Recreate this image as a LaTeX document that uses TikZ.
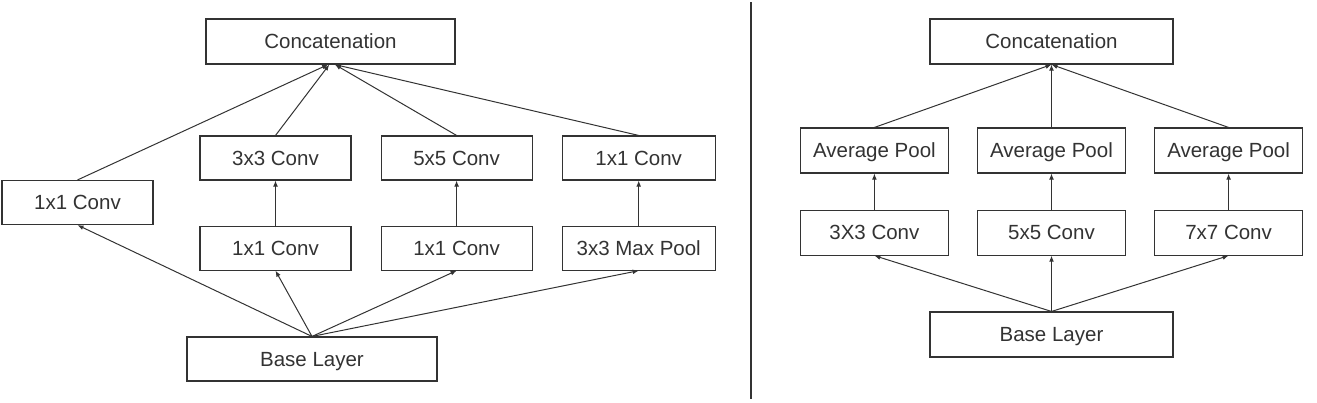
\documentclass[tikz,border=0pt]{standalone}
\usepackage{fontspec}
\setmainfont{Liberation Sans}
\usetikzlibrary{arrows.meta, positioning}
\definecolor{ink}{HTML}{333333}
\tikzset{
  layer/.style={
    rectangle, draw=ink, line width=0.55pt, fill=white,
    minimum width=75.5pt, minimum height=22pt, inner sep=0pt,
    text height=7.35pt, text depth=0pt,
    font=\fontsize{10.25}{12}\selectfont, text=ink
  },
  widelayer/.style={layer, minimum width=124.5pt, minimum height=22.5pt},
  poollayer/.style={layer, minimum width=74pt, minimum height=22.5pt},
  flow/.style={-{Latex[length=3pt,width=2.4pt]}, line width=0.5pt, draw=ink},
  divider/.style={line width=0.6pt, draw=ink},
}

\begin{document}
\begin{tikzpicture}
  \useasboundingbox (0,0) rectangle (658.5pt,-201pt);

  % left: naive module
  \node[widelayer] (concatA) at (165.25pt,-20.75pt) {Concatenation};
  \node[layer] (conv3A) at (137.75pt,-79pt) {3x3 Conv};
  \node[layer, right=14.5pt of conv3A] (conv5A) {5x5 Conv};
  \node[layer, right=14.5pt of conv5A, minimum width=76.5pt] (conv1A) {1x1 Conv};
  \node[layer, below=22.5pt of conv3A] (red3A) {1x1 Conv};
  \node[layer, below=22.5pt of conv5A] (red5A) {1x1 Conv};
  \node[layer, below=22.5pt of conv1A, minimum width=76.5pt] (poolA) {3x3 Max Pool};
  \node[layer] (directA) at (38.75pt,-101.25pt) {1x1 Conv};
  \node[widelayer, minimum width=125pt, minimum height=22pt] (baseA) at (156pt,-179.5pt) {Base Layer};

  \draw[flow] (directA.north) -- ([xshift=-1.2pt]concatA.south);
  \draw[flow] (conv3A.north) -- ([xshift=-0.6pt]concatA.south);
  \draw[flow] (conv5A.north) -- ([xshift=2.2pt]concatA.south);
  \draw[flow] (conv1A.north) -- ([xshift=2.2pt]concatA.south);
  \draw[flow] (red3A) -- (conv3A);
  \draw[flow] (red5A) -- (conv5A);
  \draw[flow] (poolA) -- (conv1A);
  \draw[flow] (baseA.north) -- (directA.south);
  \draw[flow] (baseA.north) -- (red3A.south);
  \draw[flow] (baseA.north) -- (red5A.south);
  \draw[flow] (baseA.north) -- (poolA.south);

  \draw[divider] (375.5pt,-1pt) -- (375.5pt,-199.5pt);

  % right: pooled branches
  \node[widelayer, minimum width=121.5pt] (concatB) at (525.75pt,-20.75pt) {Concatenation};
  \node[poollayer] (avgB2) at (525.75pt,-75.25pt) {Average Pool};
  \node[poollayer, left=14pt of avgB2] (avgB1) {Average Pool};
  \node[poollayer, right=14pt of avgB2] (avgB3) {Average Pool};
  \node[poollayer, below=18pt of avgB1] (convB1) {3X3 Conv};
  \node[poollayer, below=18pt of avgB2] (convB2) {5x5 Conv};
  \node[poollayer, below=18pt of avgB3] (convB3) {7x7 Conv};
  \node[widelayer, minimum width=121.5pt] (baseB) at (525.75pt,-167.25pt) {Base Layer};

  \foreach \i in {1,2,3} {
    \draw[flow] (avgB\i.north) -- (concatB.south);
    \draw[flow] (convB\i) -- (avgB\i);
    \draw[flow] (baseB.north) -- (convB\i.south);
  }
\end{tikzpicture}
\end{document}
